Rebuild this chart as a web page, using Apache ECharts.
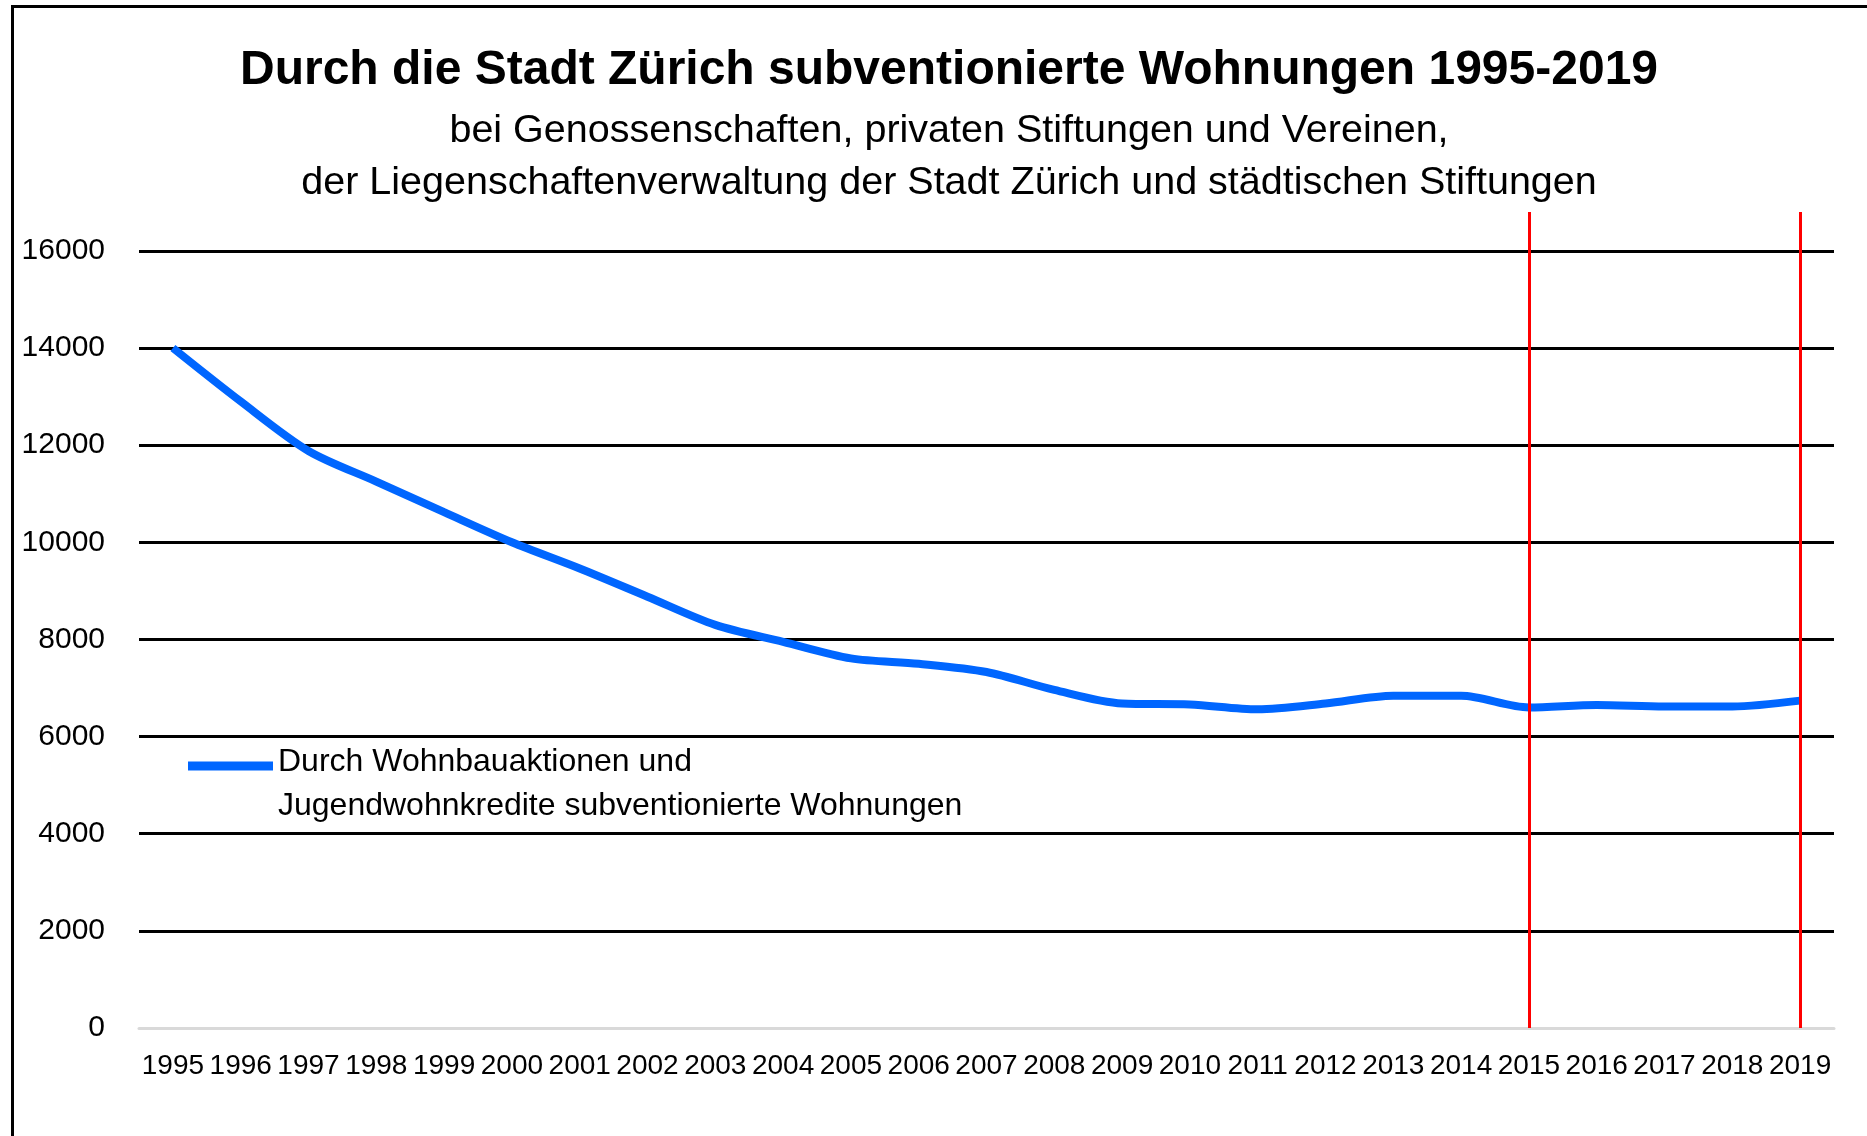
<!DOCTYPE html>
<html>
<head>
<meta charset="utf-8">
<title>Subventionierte Wohnungen Zürich</title>
<script src="https://cdn.jsdelivr.net/npm/echarts@6/dist/echarts.min.js"></script>
<style>
  html, body { margin: 0; padding: 0; overflow: hidden; background: #fff; }
  #chart { position: absolute; left: 0; top: 0; width: 1867px; height: 1136px; }
  /* Rahmen des Excel-Diagramms, nur oben und links sichtbar */
  #frame { position: absolute; left: 11px; top: 5px; width: 2000px; height: 2000px;
    border-left: 3px solid #000; border-top: 3px solid #000; pointer-events: none; }
</style>
</head>
<body>
<div id="chart"></div>
<div id="frame"></div>
<script>
const years = ['1995', '1996', '1997', '1998', '1999', '2000', '2001', '2002', '2003', '2004',
  '2005', '2006', '2007', '2008', '2009', '2010', '2011', '2012', '2013', '2014',
  '2015', '2016', '2017', '2018', '2019']
const wohnungen = [14000, 12900, 11880, 11250, 10620, 10000, 9460, 8880, 8300, 7950,
  7610, 7500, 7330, 6960, 6680, 6660, 6560, 6680, 6840, 6840,
  6600, 6650, 6620, 6620, 6740]
const markedYears = ['2015', '2019']
const seriesName = 'Durch Wohnbauaktionen und Jugendwohnkredite subventionierte Wohnungen'
const legendLines = ['Durch Wohnbauaktionen und', 'Jugendwohnkredite subventionierte Wohnungen']

const font = "'Liberation Sans', Arial, sans-serif"

const chart = echarts.init(document.getElementById('chart'), null, { renderer: 'canvas' })

chart.setOption({
  animation: false,
  backgroundColor: 'transparent',
  title: {
    text: 'Durch die Stadt Zürich subventionierte Wohnungen 1995-2019',
    subtext: 'bei Genossenschaften, privaten Stiftungen und Vereinen,\nder Liegenschaftenverwaltung der Stadt Zürich und städtischen Stiftungen',
    left: 949,
    textAlign: 'center',
    top: 42,
    padding: 0,
    itemGap: 5,
    textStyle: {
      fontFamily: font,
      fontSize: 48,
      fontWeight: 'bold',
      color: '#000',
      lineHeight: 58
    },
    subtextStyle: {
      fontFamily: font,
      fontSize: 39.5,
      color: '#000',
      lineHeight: 52
    }
  },
  legend: {
    left: 188,
    top: 717,
    padding: 0,
    icon: 'rect',
    itemWidth: 85,
    itemHeight: 9,
    selectedMode: false,
    // erste Textzeile auf Höhe des Symbols, zweite darunter
    formatter: () => '{gap| }\n{a|' + legendLines[0] + '}\n{a|' + legendLines[1] + '}',
    textStyle: {
      fontFamily: font,
      fontSize: 32,
      color: '#000',
      rich: {
        gap: { lineHeight: 37, fontSize: 10 },
        a: { fontFamily: font, fontSize: 32, color: '#000', lineHeight: 44 }
      }
    },
    data: [seriesName]
  },
  grid: {
    left: 139,
    right: 33,
    top: 212,
    bottom: 108,
    containLabel: false
  },
  xAxis: {
    type: 'category',
    data: years,
    boundaryGap: true,
    axisLine: { show: true, lineStyle: { color: '#d9d9d9', width: 3 } },
    axisTick: { show: false },
    axisLabel: {
      interval: 0,
      margin: 24,
      fontFamily: font,
      fontSize: 28,
      color: '#000'
    }
  },
  yAxis: {
    type: 'value',
    min: 0,
    max: 16800,
    interval: 2000,
    axisLine: { show: false },
    axisTick: { show: false },
    axisLabel: {
      showMaxLabel: false,
      margin: 34,
      fontFamily: font,
      fontSize: 30,
      color: '#000',
      formatter: v => String(v)
    },
    splitLine: {
      show: true,
      showMinLine: false,
      showMaxLine: false,
      lineStyle: { color: '#000', width: 3 }
    }
  },
  series: [
    {
      name: seriesName,
      type: 'line',
      data: wohnungen,
      smooth: 0.3,
      symbol: 'none',
      lineStyle: { color: '#0066ff', width: 8 },
      itemStyle: { color: '#0066ff' },
      // rote Markierungen bei 2015 und 2019
      markLine: {
        silent: true,
        symbol: 'none',
        label: { show: false },
        lineStyle: { color: '#ff0000', width: 3, type: 'solid' },
        data: markedYears.map(y => ({ xAxis: y }))
      }
    }
  ]
})
</script>
</body>
</html>
